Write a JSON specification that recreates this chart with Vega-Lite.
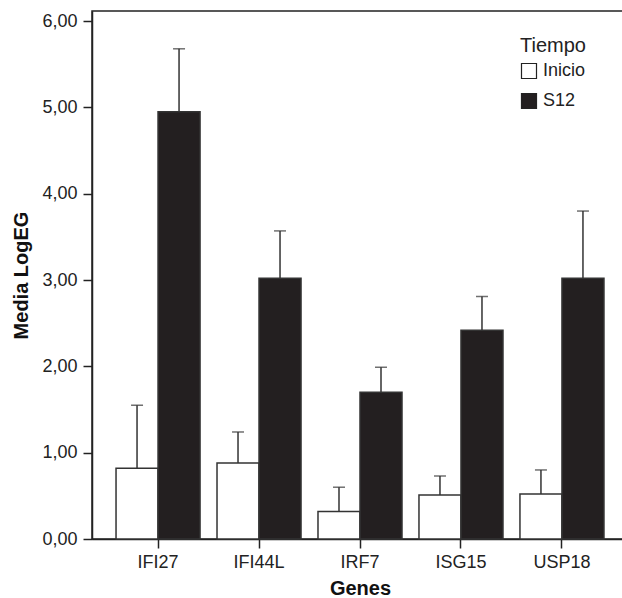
{
  "$schema": "https://vega.github.io/schema/vega-lite/v6.json",
  "width": 536,
  "height": 528,
  "autosize": "none",
  "padding": {"left": 92, "top": 11, "right": 0, "bottom": 59},
  "background": "white",
  "config": {
    "font": "Liberation Sans",
    "view": {"stroke": "#222", "strokeWidth": 1.5},
    "axis": {"grid": false, "domainColor": "#222", "domainWidth": 1.5, "tickColor": "#222", "tickWidth": 1.5, "tickSize": 9, "labelColor": "#222", "titleColor": "#111", "labelFont": "Liberation Sans", "titleFont": "Liberation Sans"}
  },
  "data": {
    "values": [
      {"gene": "IFI27", "tiempo": "Inicio", "mean": 0.82, "upper": 1.55},
      {"gene": "IFI27", "tiempo": "S12", "mean": 4.95, "upper": 5.68},
      {"gene": "IFI44L", "tiempo": "Inicio", "mean": 0.88, "upper": 1.24},
      {"gene": "IFI44L", "tiempo": "S12", "mean": 3.02, "upper": 3.57},
      {"gene": "IRF7", "tiempo": "Inicio", "mean": 0.32, "upper": 0.6},
      {"gene": "IRF7", "tiempo": "S12", "mean": 1.7, "upper": 1.99},
      {"gene": "ISG15", "tiempo": "Inicio", "mean": 0.51, "upper": 0.73},
      {"gene": "ISG15", "tiempo": "S12", "mean": 2.42, "upper": 2.81},
      {"gene": "USP18", "tiempo": "Inicio", "mean": 0.52, "upper": 0.8},
      {"gene": "USP18", "tiempo": "S12", "mean": 3.02, "upper": 3.8}
    ]
  },
  "encoding": {
    "x": {
      "field": "gene", "type": "nominal", "sort": null,
      "scale": {"paddingInner": 0.168, "paddingOuter": 0.238},
      "axis": {"title": "Genes", "labelAngle": 0, "labelFontSize": 18, "labelPadding": 5, "titleFontSize": 20, "titleFontWeight": "bold", "titlePadding": 7}
    },
    "xOffset": {"field": "tiempo", "type": "nominal", "sort": ["Inicio", "S12"], "scale": {"paddingInner": 0, "paddingOuter": 0}}
  },
  "layer": [
    {
      "mark": {"type": "rule", "strokeWidth": 1.5, "color": "#333"},
      "encoding": {
        "y": {"field": "mean", "type": "quantitative"},
        "y2": {"field": "upper"}
      }
    },
    {
      "mark": {"type": "tick", "orient": "horizontal", "size": 12, "thickness": 1.5, "color": "#333"},
      "encoding": {
        "y": {"field": "upper", "type": "quantitative"}
      }
    },
    {
      "mark": {"type": "bar", "stroke": "#333", "strokeWidth": 1.5},
      "encoding": {
        "y": {
          "field": "mean", "type": "quantitative",
          "scale": {"domain": [0, 6.118], "nice": false, "zero": true},
          "axis": {"title": "Media LogEG", "values": [0, 1, 2, 3, 4, 5, 6], "labelExpr": "replace(format(datum.value, '.2f'), '.', ',')", "labelFontSize": 18, "labelPadding": 6, "titleFontSize": 20, "titleFontWeight": "bold", "titlePadding": 10}
        },
        "fill": {
          "field": "tiempo", "type": "nominal",
          "scale": {"domain": ["Inicio", "S12"], "range": ["white", "#231f20"]},
          "legend": {"title": "Tiempo", "orient": "none", "legendX": 428, "legendY": 25, "symbolType": "square", "symbolSize": 225, "symbolStrokeColor": "#222", "symbolStrokeWidth": 1.2, "titleFontSize": 20, "titleFontWeight": "normal", "titleColor": "#222", "labelFontSize": 18, "labelColor": "#222", "rowPadding": 10, "titlePadding": 6, "labelOffset": 5}
        }
      }
    }
  ]
}
